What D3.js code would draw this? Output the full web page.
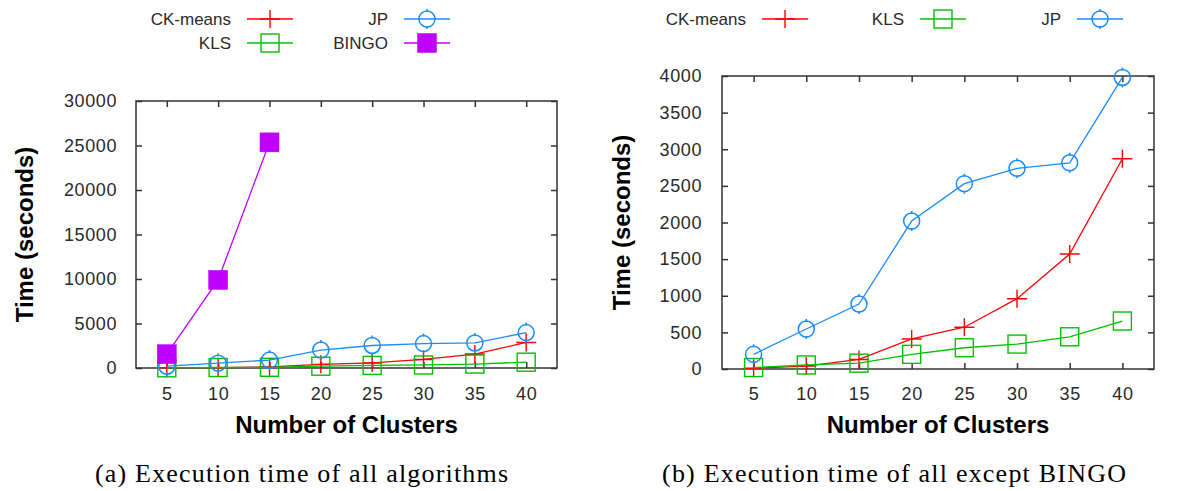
<!DOCTYPE html>
<html>
<head>
<meta charset="utf-8">
<script src="https://cdn.jsdelivr.net/npm/d3@7/dist/d3.min.js"></script>
<style>
  body { margin: 0; background: #fff; }
  svg { display: block; }
  .tick text { font-family: "Liberation Sans", Arial, sans-serif; font-size: 18px; letter-spacing: 0.6px; fill: #2a2a2a; }
  .tick line { stroke: #333; stroke-width: 1.5; }
  .legend text { font-family: "Liberation Sans", Arial, sans-serif; font-size: 17px; fill: #2a2a2a; }
  .title { font-family: "Liberation Sans", Arial, sans-serif; font-size: 24px; font-weight: bold; fill: #000; }
  .caption { font-family: "Liberation Serif", "Times New Roman", serif; font-size: 26px; fill: #000; }
</style>
</head>
<body>
<svg id="chart"></svg>
<script>
// values
var clusters = [5, 10, 15, 20, 25, 30, 35, 40];
var ckMeans = [10, 40, 130, 410, 570, 960, 1570, 2870];
var kls = [20, 55, 80, 200, 290, 340, 440, 655];
var jp = [200, 546, 887, 2020, 2530, 2740, 2815, 3980];
var bingoClusters = [5, 10, 15];
var bingo = [1550, 9900, 25350];

var yTicksA = [0, 5000, 10000, 15000, 20000, 25000, 30000];
var yTicksB = [0, 500, 1000, 1500, 2000, 2500, 3000, 3500, 4000];

var W = 1198, H = 491;

var COLORS = { ck: "#ff0000", kls: "#00c000", jp: "#1a8cff", bingo: "#c000ff" };

var svg = d3.select("#chart").attr("width", W).attr("height", H);
svg.append("rect").attr("width", W).attr("height", H).attr("fill", "#fff");

function makeSeries(name, key, xs, ys, marker) {
    return { name: name, color: COLORS[key], marker: marker,
             points: xs.map(function(x, i) { return { x: x, y: ys[i] }; }) };
}

var seriesCk = makeSeries("CK-means", "ck", clusters, ckMeans, "plus");
var seriesKls = makeSeries("KLS", "kls", clusters, kls, "square");
var seriesJp = makeSeries("JP", "jp", clusters, jp, "circle");
var seriesBingo = makeSeries("BINGO", "bingo", bingoClusters, bingo, "filled");

function drawMarker(g, type, color) {
    if (type == "plus") {
        g.append("path").attr("d", "M-10,0H10M0,-9V9")
            .attr("stroke", color).attr("stroke-width", 1.4).attr("fill", "none");
    } else if (type == "square") {
        g.append("rect").attr("x", -9).attr("y", -9).attr("width", 18).attr("height", 18)
            .attr("stroke", color).attr("stroke-width", 1.4).attr("fill", "none");
    } else if (type == "circle") {
        g.append("circle").attr("r", 8)
            .attr("stroke", color).attr("stroke-width", 1.5).attr("fill", "none");
        g.append("path").attr("d", "M0,-10V-7M0,7V10")
            .attr("stroke", color).attr("stroke-width", 1.5);
    } else {
        g.append("rect").attr("x", -9.5).attr("y", -9.5).attr("width", 19).attr("height", 19)
            .attr("fill", color).attr("stroke", color).attr("stroke-width", 0.5);
    }
}

function drawPanel(p) {
    var width = p.right - p.left, height = p.bottom - p.top;
    var x = d3.scaleLinear().domain([2, 43]).range([0, width]);
    var y = d3.scaleLinear().domain([0, p.yMax]).range([height, 0]);
    var g = svg.append("g").attr("transform", "translate(" + p.left + "," + p.top + ")");

    g.append("g").attr("transform", "translate(0," + height + ")")
        .call(d3.axisBottom(x).tickValues(clusters).tickSize(-6).tickPadding(p.xPad))
        .call(function(a) { a.select(".domain").remove(); });
    g.append("g")
        .call(d3.axisTop(x).tickValues(clusters).tickSize(-6).tickFormat(""))
        .call(function(a) { a.select(".domain").remove(); });
    g.append("g")
        .call(d3.axisLeft(y).tickValues(p.yTicks).tickSize(-6).tickPadding(p.yPad).tickFormat(d3.format("d")))
        .call(function(a) { a.select(".domain").remove(); });
    g.append("g").attr("transform", "translate(" + width + ",0)")
        .call(d3.axisRight(y).tickValues(p.yTicks).tickSize(-6).tickFormat(""))
        .call(function(a) { a.select(".domain").remove(); });

    g.append("rect").attr("width", width).attr("height", height)
        .attr("fill", "none").attr("stroke", "#333").attr("stroke-width", 1.5);

    var line = d3.line().x(function(d) { return x(d.x); }).y(function(d) { return y(d.y); });

    p.series.forEach(function(s) {
        var sg = g.append("g");
        sg.append("path").attr("d", line(s.points))
            .attr("fill", "none").attr("stroke", s.color).attr("stroke-width", 1.3);
        s.points.forEach(function(d) {
            drawMarker(sg.append("g").attr("transform", "translate(" + x(d.x) + "," + y(d.y) + ")"),
                       s.marker, s.color);
        });
    });

    svg.append("text").attr("class", "title")
        .attr("x", (p.left + p.right) / 2).attr("y", 433)
        .attr("text-anchor", "middle").text("Number of Clusters");
    svg.append("text").attr("class", "title")
        .attr("transform", "translate(" + p.yTitleX + "," + (p.top + p.bottom) / 2 + ") rotate(-90)")
        .attr("text-anchor", "middle").text("Time (seconds)");

    var leg = svg.append("g").attr("class", "legend");
    p.legend.forEach(function(l) {
        var s = l.s;
        leg.append("text").attr("x", l.tx).attr("y", l.y).attr("dy", "0.35em")
            .attr("text-anchor", "end").text(s.name);
        leg.append("line").attr("x1", l.tx + 16).attr("x2", l.tx + 62)
            .attr("y1", l.y).attr("y2", l.y)
            .attr("stroke", s.color).attr("stroke-width", 1.3);
        drawMarker(leg.append("g").attr("transform", "translate(" + (l.tx + 39) + "," + l.y + ")"),
                   s.marker, s.color);
    });

    svg.append("text").attr("class", "caption")
        .attr("x", p.capX).attr("y", 482)
        .attr("textLength", p.capLen).attr("lengthAdjust", "spacing")
        .text(p.caption);
}

drawPanel({
    left: 136, right: 557, top: 101, bottom: 368, yMax: 30000, yTicks: yTicksA,
    xPad: 19, yPad: 19, yTitleX: 33,
    series: [seriesCk, seriesKls, seriesJp, seriesBingo],
    legend: [
        { s: seriesCk, tx: 231, y: 19 },
        { s: seriesKls, tx: 231, y: 43 },
        { s: seriesJp, tx: 388, y: 19 },
        { s: seriesBingo, tx: 388, y: 43 }
    ],
    caption: "(a) Execution time of all algorithms", capX: 95, capLen: 413
});

drawPanel({
    left: 722, right: 1154, top: 76, bottom: 369, yMax: 4000, yTicks: yTicksB,
    xPad: 18, yPad: 20, yTitleX: 630,
    series: [seriesCk, seriesKls, seriesJp],
    legend: [
        { s: seriesCk, tx: 746, y: 19 },
        { s: seriesKls, tx: 904, y: 19 },
        { s: seriesJp, tx: 1061, y: 19 }
    ],
    caption: "(b) Execution time of all except BINGO", capX: 662, capLen: 464
});
</script>
</body>
</html>
